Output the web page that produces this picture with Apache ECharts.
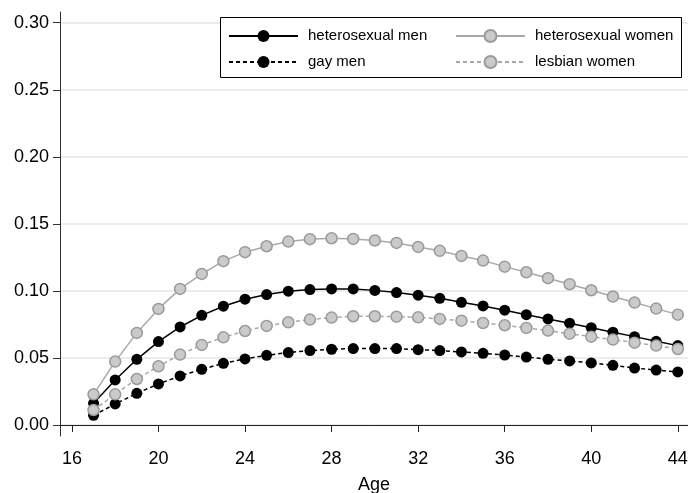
<!DOCTYPE html>
<html><head><meta charset="utf-8">
<script src="https://cdn.jsdelivr.net/npm/echarts@6/dist/echarts.min.js"></script>
<style>html,body{margin:0;padding:0;background:#fff}#c{width:688px;height:493px}</style>
</head><body><div id="c"></div>
<script>
const ages = [17,18,19,20,21,22,23,24,25,26,27,28,29,30,31,32,33,34,35,36,37,38,39,40,41,42,43,44];
const xTicks = [16,20,24,28,32,36,40,44];
const yTicks = [0,0.05,0.10,0.15,0.20,0.25,0.30];
const heteroMen = [0.0162,0.0336,0.0490,0.0622,0.0731,0.0818,0.0886,0.0938,0.0973,0.0998,0.1010,0.1015,0.1015,0.1004,
  0.0988,0.0968,0.0945,0.0915,0.0888,0.0856,0.0823,0.0791,0.0759,0.0726,0.0692,0.0659,0.0624,0.0592];
const heteroWomen = [0.0229,0.0473,0.0687,0.0866,0.1015,0.1127,0.1222,0.1289,0.1333,0.1368,0.1386,0.1393,0.1388,0.1376,
  0.1358,0.1328,0.1299,0.1261,0.1226,0.1181,0.1139,0.1095,0.1050,0.1005,0.0958,0.0913,0.0868,0.0823];
const gayMen = [0.0072,0.0157,0.0236,0.0306,0.0366,0.0415,0.0460,0.0493,0.0520,0.0540,0.0555,0.0565,0.0570,0.0570,
  0.0570,0.0562,0.0555,0.0545,0.0535,0.0522,0.0507,0.0490,0.0478,0.0463,0.0445,0.0425,0.0410,0.0396];
const lesbianWomen = [0.0112,0.0229,0.0343,0.0438,0.0525,0.0597,0.0654,0.0701,0.0739,0.0766,0.0786,0.0801,0.0811,0.0811,
  0.0808,0.0803,0.0791,0.0778,0.0761,0.0744,0.0724,0.0704,0.0681,0.0659,0.0637,0.0614,0.0592,0.0567];
const names = ['heterosexual men','heterosexual women','gay men','lesbian women'];

const FONT = 'Liberation Sans, Arial, Helvetica, sans-serif';
const pair = arr => ages.map((a, i) => [a, arr[i]]);
const blackStyle = (dashed) => ({
  symbol: 'circle', symbolSize: 11,
  lineStyle: { color: '#000', width: 1.5, type: dashed ? [4, 3] : 'solid' },
  itemStyle: { color: '#000', borderColor: '#000', borderWidth: 0 }
});
const grayStyle = (dashed) => ({
  symbol: 'circle', symbolSize: 11,
  lineStyle: { color: '#a8a8a8', width: 1.5, type: dashed ? [4, 3] : 'solid' },
  itemStyle: { color: '#cacaca', borderColor: '#9a9a9a', borderWidth: 1.5 }
});

const chart = echarts.init(document.getElementById('c'), null, { renderer: 'canvas' });
const legendCommon = {
  orient: 'vertical', top: 28.5, padding: 0, itemGap: 11,
  itemWidth: 69, itemHeight: 15, z: 10,
  textStyle: { fontSize: 15, color: '#000', fontFamily: FONT, padding: [0, 0, 0, 5] }
};
chart.setOption({
  animation: false,
  backgroundColor: '#fff',
  textStyle: { fontFamily: FONT },
  grid: { left: 60, right: 0, top: 12, bottom: 57, containLabel: false, outerBoundsMode: 'none' },
  xAxis: {
    type: 'value', min: 15.45, max: 44.47,
    axisLine: { show: true, lineStyle: { color: '#222', width: 1 } },
    axisTick: { show: true, length: 7, customValues: xTicks, lineStyle: { color: '#222' } },
    minorTick: { show: false },
    axisLabel: { customValues: xTicks, fontSize: 18, color: '#000', margin: 14, fontFamily: FONT },
    splitLine: { show: false },
    name: 'Age', nameLocation: 'middle', nameGap: 40,
    nameTextStyle: { fontSize: 18, color: '#000', fontFamily: FONT }
  },
  yAxis: {
    type: 'value', min: -0.0082, max: 0.308,
    axisLine: { show: true, lineStyle: { color: '#333', width: 1 } },
    axisTick: { show: true, length: 7, customValues: yTicks, lineStyle: { color: '#333' } },
    minorTick: { show: false },
    axisLabel: { customValues: yTicks, fontSize: 18, color: '#000', margin: 11, fontFamily: FONT,
      formatter: v => v.toFixed(2) },
    splitLine: { show: true, lineStyle: { color: '#e6e6e6', width: 1.6 } }
  },
  graphic: [{
    type: 'rect', z: 5,
    shape: { x: 220.5, y: 17.5, width: 461, height: 60 },
    style: { fill: '#fff', stroke: '#000', lineWidth: 1 }
  }],
  legend: [
    Object.assign({}, legendCommon, { left: 228, data: [names[0], names[2]] }),
    Object.assign({}, legendCommon, { left: 455, data: [names[1], names[3]] })
  ],
  series: [
    Object.assign({ name: names[0], type: 'line', data: pair(heteroMen), z: 3 }, blackStyle(false)),
    Object.assign({ name: names[1], type: 'line', data: pair(heteroWomen), z: 3 }, grayStyle(false)),
    Object.assign({ name: names[2], type: 'line', data: pair(gayMen), z: 3 }, blackStyle(true)),
    Object.assign({ name: names[3], type: 'line', data: pair(lesbianWomen), z: 3 }, grayStyle(true))
  ]
});
</script></body></html>
